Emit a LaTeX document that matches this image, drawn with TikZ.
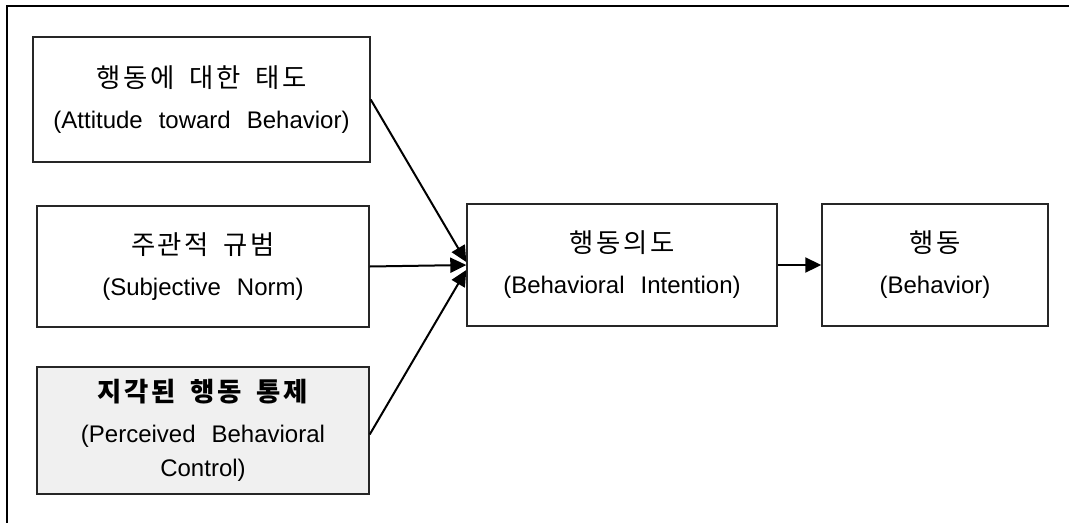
\documentclass[tikz,border=0pt]{standalone}
\usepackage{fontspec}
\setmainfont{Liberation Sans}[WordSpace=2.4]
\newfontfamily\kr{Noto Sans CJK KR}[Scale=1.1,LetterSpace=10,WordSpace=1.7]
\usetikzlibrary{arrows.meta,calc}
\definecolor{boxgray}{HTML}{F0F0F0}
\begin{document}
\begin{tikzpicture}[x=1pt,y=-1pt,
  frameline/.style={line width=2pt,black},
  box/.style={draw=black!85,line width=1.4pt,fill=white,inner sep=0pt,align=center,
    font=\fontsize{24}{34}\selectfont},
  conn/.style={line width=2pt,black,-{Triangle[length=16pt,width=15pt]}}]
\useasboundingbox (0,0) rectangle (1069,523);
\draw[frameline] (1069,6) -- (7,6) -- (7,523);
\node[box,minimum width=337pt,minimum height=125pt] (att) at (201.5,99.5)
  {{\kr 행동에 대한 태도}\\[7pt](Attitude toward Behavior)};
\node[box,minimum width=332pt,minimum height=121pt] (sn) at (203,266.5)
  {{\kr 주관적 규범}\\[7pt](Subjective Norm)};
\node[box,fill=boxgray,minimum width=332pt,minimum height=127pt] (pbc) at (203,430.5)
  {{\kr\bfseries 지각된 행동 통제}\\[7pt](Perceived Behavioral\\Control)};
\node[box,minimum width=310pt,minimum height=122pt] (bi) at (622,265)
  {{\kr 행동의도}\\[7pt](Behavioral Intention)};
\node[box,minimum width=226pt,minimum height=122pt] (beh) at (935,265)
  {{\kr 행동}\\[7pt](Behavior)};
\draw[conn] (att.east) -- ($(bi.west)+(0,-3)$);
\draw[conn] (sn.east) -- (bi.west);
\draw[conn] ($(pbc.east)+(0,4)$) -- ($(bi.west)+(0,5)$);
\draw[conn] (bi.east) -- (beh.west);
\end{tikzpicture}
\end{document}
